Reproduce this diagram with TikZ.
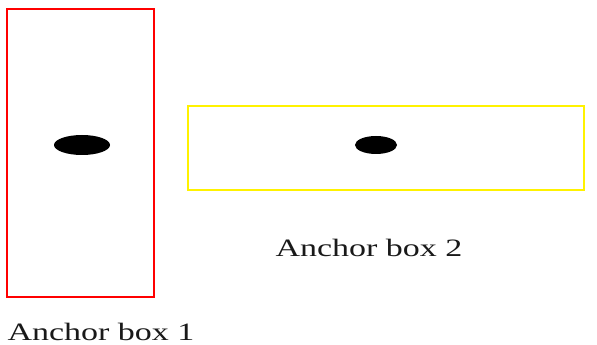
\documentclass[tikz,border=0pt]{standalone}
\usepackage{fontspec}
\setmainfont{Liberation Serif}
\begin{document}
\begin{tikzpicture}[x=1pt,y=1pt,
  boxline/.style={line width=2pt},
  centerdot/.style={fill=black, draw=none},
  boxlabel/.style={font=\fontsize{25}{28}\selectfont, text=black!90, inner sep=0pt, text depth=0pt, anchor=base, xscale=1.36}]
\useasboundingbox (0,0) rectangle (597,345);
\draw[boxline, red] (7,48) rectangle (154,336);
\draw[boxline, yellow] (188,155) rectangle (584,239);
\fill[centerdot] (82,200) ellipse [x radius=28, y radius=10];
\fill[centerdot] (376,200) ellipse [x radius=21, y radius=9];
\node[boxlabel] (l1) at (101,4) {Anchor box 1};
\node[boxlabel] (l2) at (369,88) {Anchor box 2};
\end{tikzpicture}
\end{document}
